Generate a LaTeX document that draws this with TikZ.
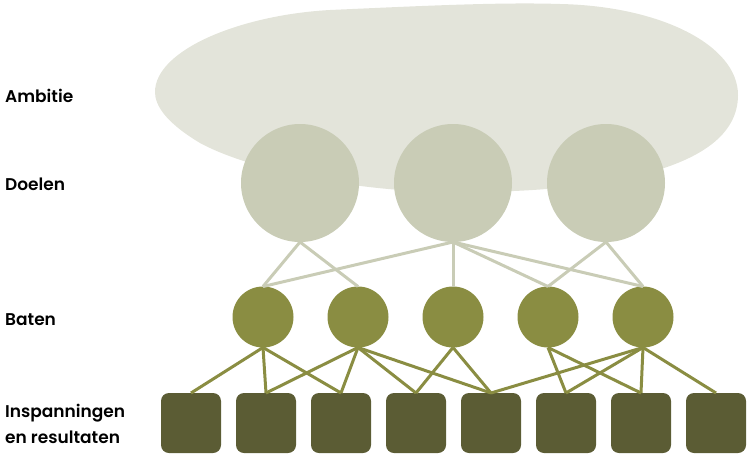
\documentclass[tikz,border=0pt]{standalone}
\usepackage{fontspec}
\setmainfont{Poppins}[UprightFont={* SemiBold}]
\usetikzlibrary{positioning}
\definecolor{wolk}{HTML}{E3E4DA}
\definecolor{doel}{HTML}{C9CCB6}
\definecolor{baat}{HTML}{8A8D42}
\definecolor{insp}{HTML}{5B5C34}

\begin{document}
\begin{tikzpicture}[x=1pt,y=-1pt,
  doelnode/.style={circle,fill=doel,minimum size=118pt,inner sep=0pt,outer sep=0pt},
  baatnode/.style={circle,fill=baat,minimum size=61pt,inner sep=0pt,outer sep=0pt},
  inspnode/.style={rectangle,rounded corners=8pt,fill=insp,minimum size=60pt,inner sep=0pt,outer sep=0pt},
  tekst/.style={inner sep=0pt,anchor=base west,align=left,font={\fontsize{17}{26}\selectfont}},
  doellijn/.style={draw=doel,line width=3pt},
  baatlijn/.style={draw=baat,line width=3pt}]
\useasboundingbox (0,0) rectangle (750,458);
\fill[wolk] (155,92) .. controls (155,50) and (240,15) .. (330,10)
  .. controls (420,6) and (500,2) .. (560,4)
  .. controls (660,6) and (738,45) .. (738,95)
  .. controls (738,135) and (700,160) .. (640,175)
  .. controls (580,190) and (500,193) .. (440,192)
  .. controls (350,190) and (250,170) .. (200,143)
  .. controls (165,122) and (155,105) .. (155,92) -- cycle;
\node[tekst](ambitie) at (5,102){Ambitie};
\node[tekst](doelen) at (5,190){Doelen};
\node[tekst](baten) at (5,325){Baten};
\node[tekst](inspanningen) at (5,443){Inspanningen\\en resultaten};
\node[doelnode](d2) at (453,183){};
\node[doelnode,left=35pt of d2](d1){};
\node[doelnode,right=35pt of d2](d3){};
\node[baatnode](b3) at (453,317){};
\node[baatnode,left=34pt of b3](b2){};
\node[baatnode,left=34pt of b2](b1){};
\node[baatnode,right=34pt of b3](b4){};
\node[baatnode,right=34pt of b4](b5){};
\node[inspnode](r1) at (191,423){};
\node[inspnode,right=15pt of r1](r2){};
\node[inspnode,right=15pt of r2](r3){};
\node[inspnode,right=15pt of r3](r4){};
\node[inspnode,right=15pt of r4](r5){};
\node[inspnode,right=15pt of r5](r6){};
\node[inspnode,right=15pt of r6](r7){};
\node[inspnode,right=15pt of r7](r8){};
\draw (d1.south) edge[doellijn] (b1.north);
\draw (d1.south) edge[doellijn] (b2.north);
\draw (d2.south) edge[doellijn] (b1.north);
\draw (d2.south) edge[doellijn] (b3.north);
\draw (d2.south) edge[doellijn] (b4.north);
\draw (d2.south) edge[doellijn] (b5.north);
\draw (d3.south) edge[doellijn] (b4.north);
\draw (d3.south) edge[doellijn] (b5.north);
\draw (b1.south) edge[baatlijn] (r1.north);
\draw (b1.south) edge[baatlijn] (r2.north);
\draw (b1.south) edge[baatlijn] (r3.north);
\draw (b2.south) edge[baatlijn] (r2.north);
\draw (b2.south) edge[baatlijn] (r3.north);
\draw (b2.south) edge[baatlijn] (r4.north);
\draw (b2.south) edge[baatlijn] (r5.north);
\draw (b3.south) edge[baatlijn] (r4.north);
\draw (b3.south) edge[baatlijn] (r5.north);
\draw (b4.south) edge[baatlijn] (r6.north);
\draw (b4.south) edge[baatlijn] (r7.north);
\draw (b5.south) edge[baatlijn] (r5.north);
\draw (b5.south) edge[baatlijn] (r6.north);
\draw (b5.south) edge[baatlijn] (r7.north);
\draw (b5.south) edge[baatlijn] (r8.north);
\end{tikzpicture}
\end{document}
